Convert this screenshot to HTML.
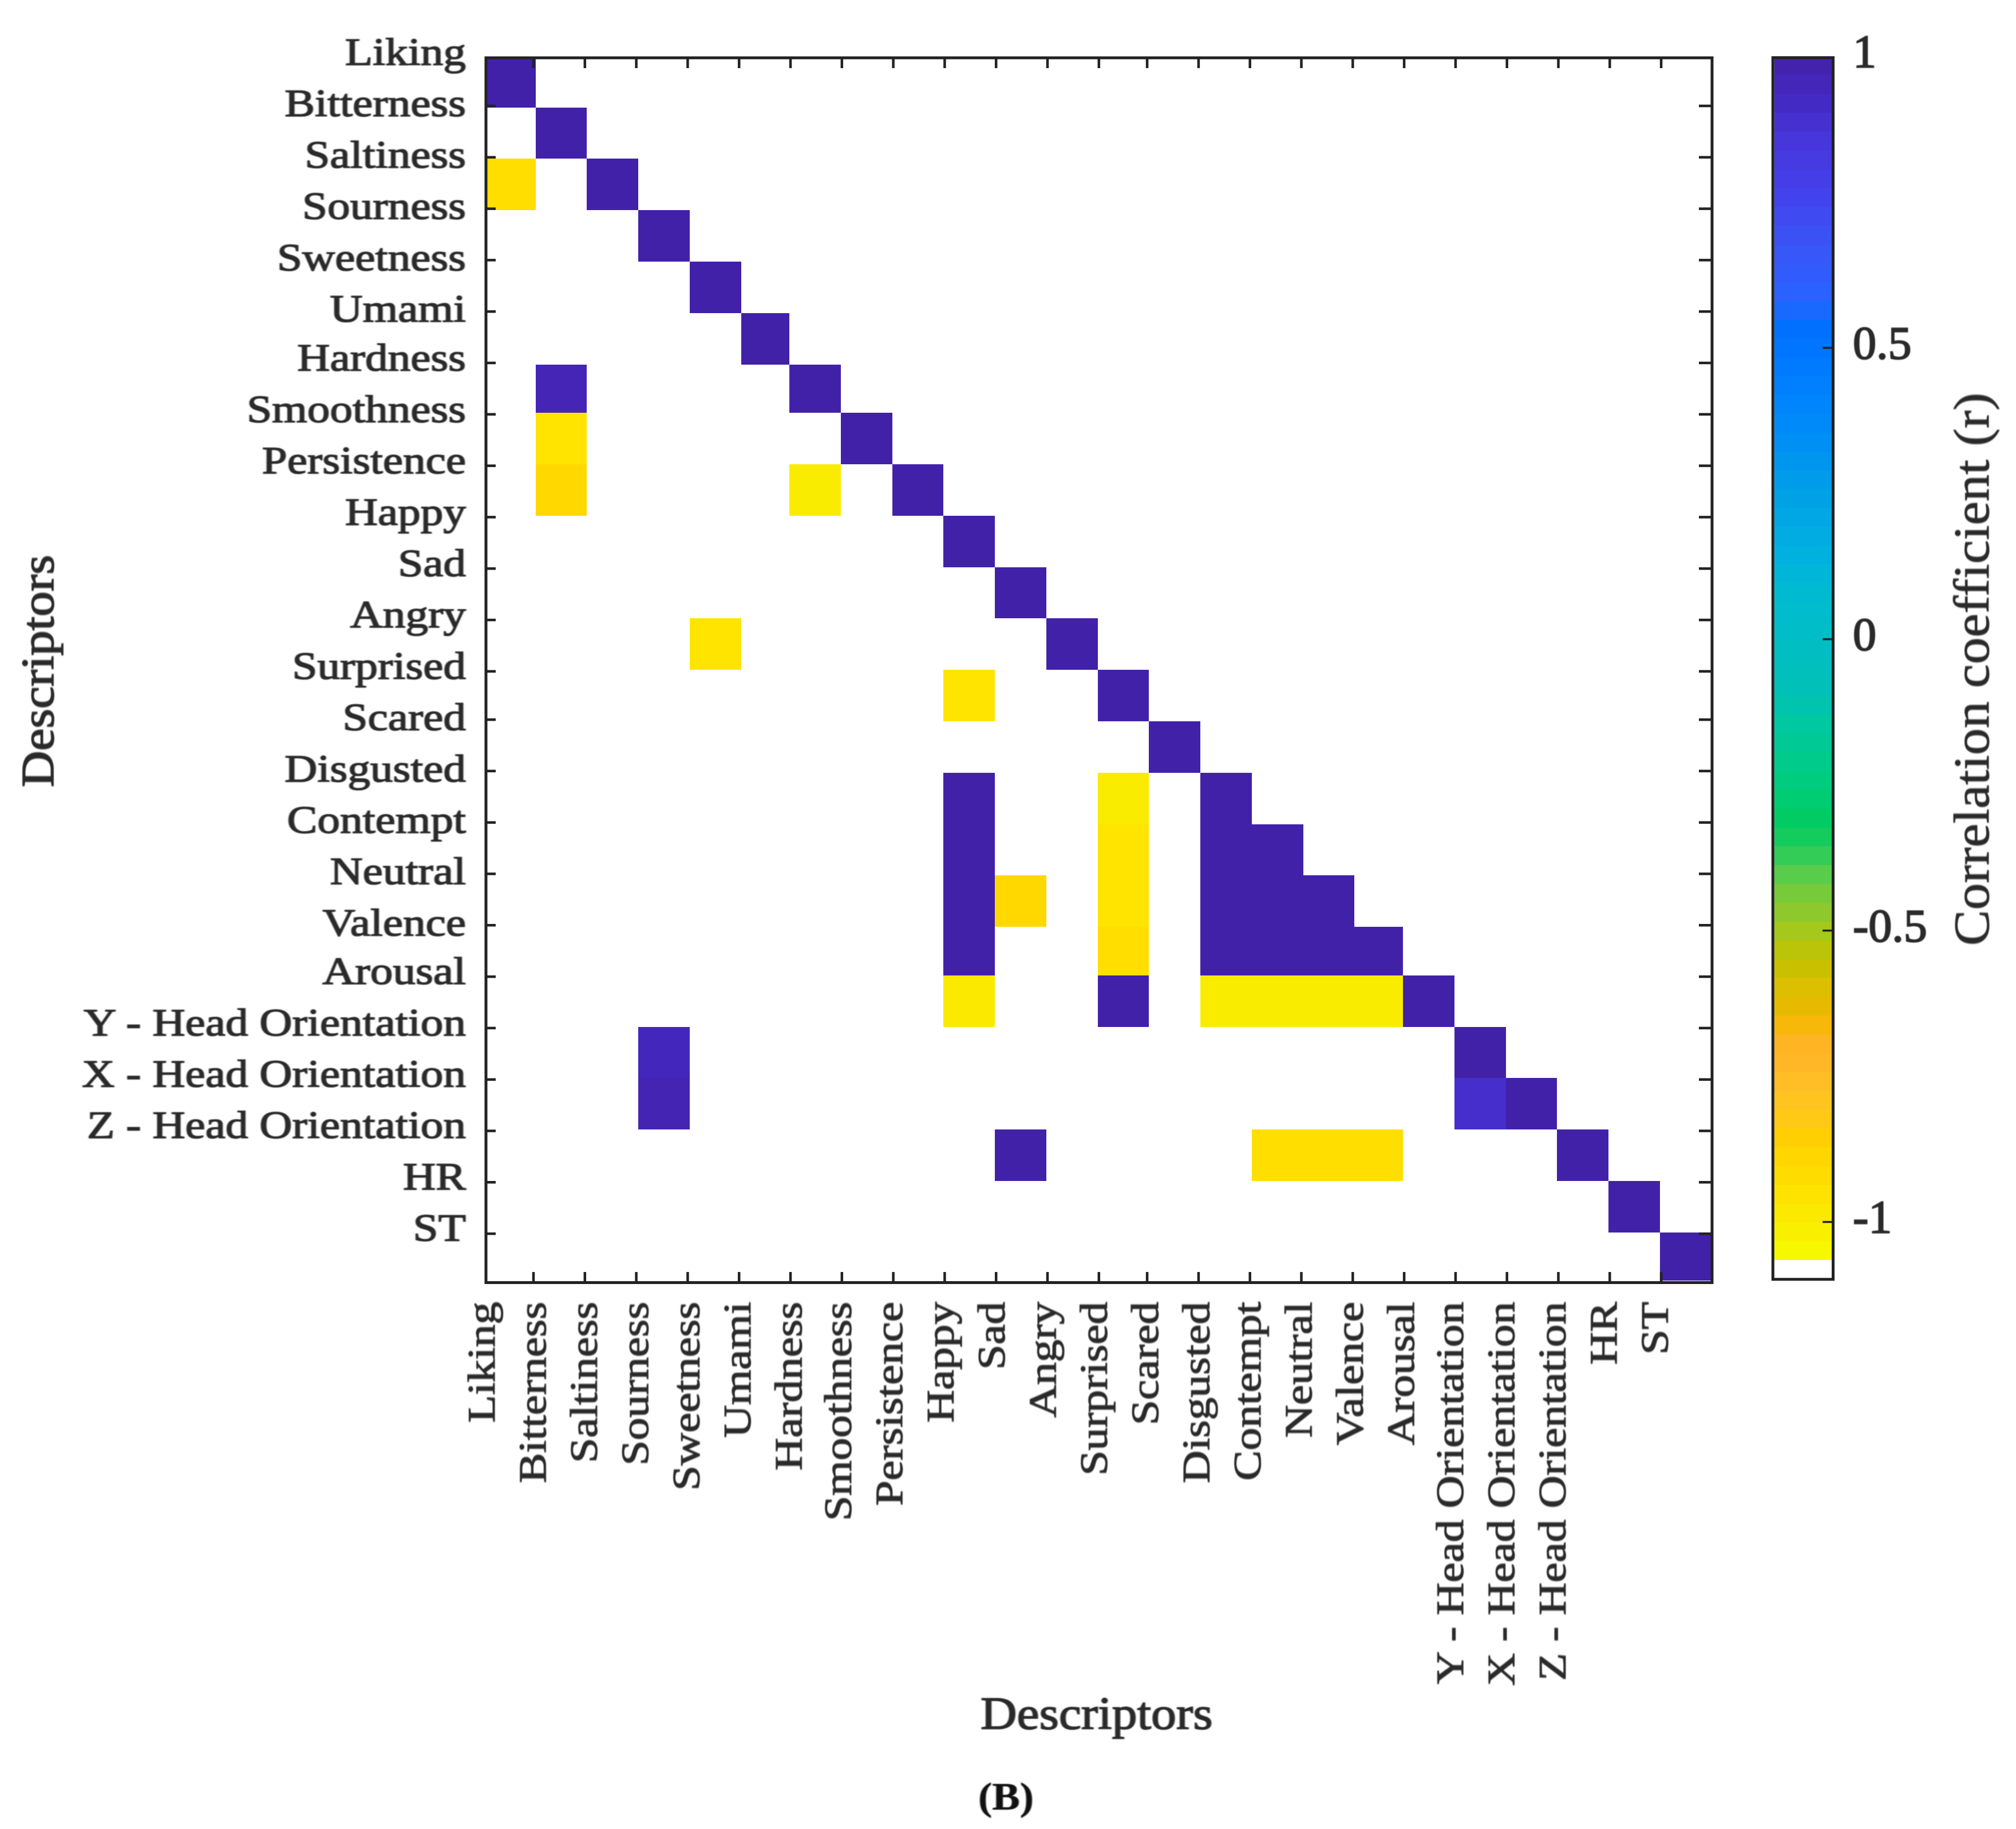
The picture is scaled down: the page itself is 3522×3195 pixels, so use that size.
<!DOCTYPE html>
<html lang="en">
<head>
<meta charset="utf-8">
<title>Correlation heatmap (B)</title>
<style>
html,body{margin:0;padding:0;background:#fff;}
svg{display:block;}
text{font-family:"Liberation Serif",serif;fill:#2a2a2a;stroke:#2a2a2a;filter:blur(0.9px);}
</style>
</head>
<body>
<svg id="chart" xmlns="http://www.w3.org/2000/svg" width="3522" height="3195" viewBox="0 0 3522 3195">
<rect x="0" y="0" width="3522" height="3195" fill="#ffffff"/>
<text transform="translate(1713,3020) scale(1.1,1)" font-size="80" stroke-width="1.8">Descriptors</text>
<text transform="translate(93,1375) rotate(-90) scale(1.1,1)" font-size="80" stroke-width="1.8">Descriptors</text>
<text transform="translate(3474,1652) rotate(-90) scale(1.065,1)" font-size="88" stroke-width="1">Correlation coefficient (r)</text>
<text transform="translate(1709,3161) scale(1.07,1)" font-size="68" font-weight="bold" stroke-width="0.6" style="fill:#111;stroke:#111">(B)</text>
</svg>
<script>
// Chart data
const categories = ["Liking","Bitterness","Saltiness","Sourness","Sweetness","Umami","Hardness","Smoothness","Persistence","Happy","Sad","Angry","Surprised","Scared","Disgusted","Contempt","Neutral","Valence","Arousal","Y - Head Orientation","X - Head Orientation","Z - Head Orientation","HR","ST"];
const cellRows = [0,1,2,3,4,5,6,7,8,9,10,11,12,13,14,15,16,17,18,19,20,21,22,23, 2,6,7,8,8,11,12, 14,15,16,17,18, 16, 14,15,16,17,18, 14,15,16,17,15,16,17,16,17,17, 18,18,18,18, 19,20,20, 21,21,21,21];
const cellCols = [0,1,2,3,4,5,6,7,8,9,10,11,12,13,14,15,16,17,18,19,20,21,22,23, 0,1,1,1,6,4,9, 9,9,9,9,9, 10, 12,12,12,12,12, 14,14,14,14,15,15,15,16,16,17, 14,15,16,17, 3,3,19, 10,15,16,17];
const cellValues = [1,1,1,1,1,1,1,1,1,1,1,1,1,1,1,1,1,1,1,1,1,1,1,1, -0.93,0.96,-0.96,-0.9,-1,-0.96,-0.96, 1,1,1,1,-0.99, -0.9, -1,-0.96,-0.96,-0.93,1, 1,1,1,1,1,1,1,1,1,1, -1,-1,-1,-1, 0.94,0.97,0.9, 1,-0.93,-0.93,-0.93];
const colorbarTickValues = [1,0.5,0,-0.5,-1];
const colorbarTickLabels = ["1","0.5","0","-0.5","-1"];
const colormapStops = [1,0.97,0.93,0.87,0.763,0.68,0.588,0.53,0.43,0.337,0.243,0.15,0.075,-0.08,-0.15,-0.24,-0.315,-0.357,-0.395,-0.426,-0.46,-0.496,-0.52,-0.557,-0.59,-0.626,-0.657,-0.675,-0.736,-0.79,-0.82,-0.86,-0.9,-0.93,-0.96,-1,-1.07];
const colormapColors = ["#4221a9","#4424b2","#4328c0","#4734d6","#4442ee","#3a54f5","#2a62ff","#0070ff","#0080ff","#0090f5","#00a2e6","#00b0e0","#00bbd0","#00c0b8","#00c8a0","#00cc80","#00cc60","#20cc5a","#50cc50","#70cc40","#88c830","#a0c81e","#b4c60e","#c4c000","#d8c000","#e4ba00","#f4ba00","#ffb420","#ffb82a","#ffc420","#ffc818","#ffd000","#ffd800","#ffde00","#ffe400","#faec00","#f6fb00"];

// Scales
const svgNS = "http://www.w3.org/2000/svg";
const svg = document.getElementById("chart");
const narrowColumns = [0,5,17];
const narrowRows = [0,6,17,23];
function countBefore(list, k){ return list.filter(function(n){ return n < k; }).length; }
function colEdge(k){ return Math.round(851 + k*89.75 - 5.15*countBefore(narrowColumns, k)); }
function rowEdge(k){ return Math.round(103 + k*89.8 - 5.2*countBefore(narrowRows, k)); }
function xTick(k){ return 842.2 + 89.8*k - (k >= 13 ? 5.5 : 0); }
function yTick(k){ return 95.2 + 89.8*k - (k >= 13 ? 5.5 : 0); }
function xLabel(k){ return 864 + 89.4*k - (k >= 7 ? 3 : 0) - (k >= 19 ? 3.6 : 0); }
function yLabel(k){ return 113.5 + 89.7*k - (k >= 6 ? 4 : 0) - (k >= 18 ? 5 : 0); }
function cbarY(v){ return 98.6 + (1 - v)*1018; }
function hexToRgb(h){ return [parseInt(h.slice(1,3),16),parseInt(h.slice(3,5),16),parseInt(h.slice(5,7),16)]; }
function valueColor(v){
  if (v >= colormapStops[0]) return colormapColors[0];
  for (let i = 1; i < colormapStops.length; i++) {
    if (v >= colormapStops[i]) {
      const t = (colormapStops[i-1] - v)/(colormapStops[i-1] - colormapStops[i]);
      const a = hexToRgb(colormapColors[i-1]);
      const b = hexToRgb(colormapColors[i]);
      return "rgb(" + a.map(function(c,j){ return Math.round(c + (b[j]-c)*t); }).join(",") + ")";
    }
  }
  return colormapColors[colormapColors.length-1];
}
function make(tag, attrs, parent){
  const el = document.createElementNS(svgNS, tag);
  for (const key in attrs) el.setAttribute(key, attrs[key]);
  (parent || svg).appendChild(el);
  return el;
}
function slug(s){ return s.toLowerCase().replace(/[^a-z]+/g,"-"); }

// Heatmap cells
cellValues.forEach(function(v, i){
  const r = cellRows[i], c = cellCols[i];
  const cell = make("rect", {x: colEdge(c), y: rowEdge(r), width: colEdge(c+1)-colEdge(c), height: rowEdge(r+1)-rowEdge(r), fill: valueColor(v), "shape-rendering": "crispEdges"});
  
  
});

// Axes frame
const frame = make("rect", {x: 849, y: 101, width: 2142, height: 2139.5, fill: "none", stroke: "#222222", "stroke-width": 5});



// Ticks and tick labels
categories.forEach(function(name, k){
  if (k > 0) {
    const tb = make("line", {x1: xTick(k), x2: xTick(k), y1: 2222, y2: 2240, stroke: "#222222", "stroke-width": 4.5});
    
    
    const tt = make("line", {x1: xTick(k), x2: xTick(k), y1: 101, y2: 119, stroke: "#222222", "stroke-width": 4.5});
    
    
    const tl = make("line", {x1: 849, x2: 866, y1: yTick(k), y2: yTick(k), stroke: "#222222", "stroke-width": 4.5});
    
    
    const tr = make("line", {x1: 2968, x2: 2991, y1: yTick(k), y2: yTick(k), stroke: "#222222", "stroke-width": 4.5});
    
    
  }
  const yl = make("text", {transform: "translate(814," + yLabel(k) + ") scale(1.165,1)", "text-anchor": "end", "font-size": 68, "stroke-width": 1.6});
  yl.textContent = name;
  
  
  const xl = make("text", {transform: "translate(" + xLabel(k) + ",2274) rotate(-90) scale(1.165,1)", "text-anchor": "end", "font-size": 68, "stroke-width": 1.3});
  xl.textContent = name;
  
  
});

// Colorbar bands
const bandCount = 64;
const bandTop = 1, bandBottom = -1.0655;
for (let b = 0; b < bandCount; b++) {
  const v0 = bandTop - (bandTop - bandBottom)*b/bandCount;
  const v1 = bandTop - (bandTop - bandBottom)*(b+1)/bandCount;
  const band = make("rect", {x: 3100, y: Math.round(cbarY(v0)), width: 100, height: Math.round(cbarY(v1))-Math.round(cbarY(v0)), fill: valueColor((v0+v1)/2), "shape-rendering": "crispEdges"});
  
  
}
const cbFrame = make("rect", {x: 3097.3, y: 100.7, width: 105.2, height: 2134.1, fill: "none", stroke: "#222222", "stroke-width": 5});



colorbarTickValues.forEach(function(v, i){
  if (v !== 1) {
    const t = make("line", {x1: 3184, x2: 3200, y1: cbarY(v), y2: cbarY(v), stroke: "#222222", "stroke-width": 3.5});
    
    
  }
  const lab = make("text", {x: 3237, y: cbarY(v) + 19, "font-size": 82, "stroke-width": 2.2});
  lab.textContent = colorbarTickLabels[i];
  
  
});
</script>
</body>
</html>
